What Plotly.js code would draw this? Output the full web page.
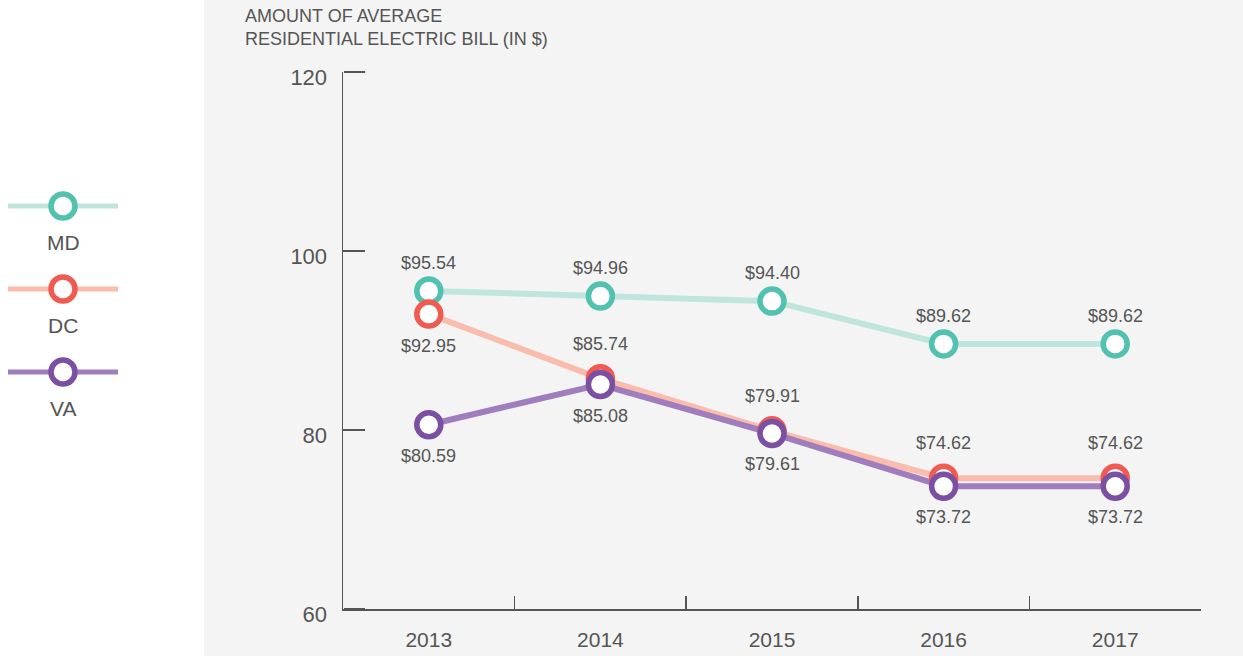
<!DOCTYPE html>
<html>
<head>
<meta charset="utf-8">
<script src="https://cdn.plot.ly/plotly-3.0.1.min.js"></script>
<style>html,body{margin:0;padding:0;background:#fff;}#chart{width:1243px;height:656px;}</style>
</head>
<body>
<div id="chart"></div>
<script>
const years = ["2013", "2014", "2015", "2016", "2017"];
const seriesNames = ["MD", "DC", "VA"];
const mdValues = [95.54, 94.96, 94.40, 89.62, 89.62];
const dcValues = [92.95, 85.74, 79.91, 74.62, 74.62];
const vaValues = [80.59, 85.08, 79.61, 73.72, 73.72];
const mdLabelSide = ["above", "above", "above", "above", "above"];
const dcLabelSide = ["below", "above", "above", "above", "above"];
const vaLabelSide = ["below", "below", "below", "below", "below"];
const yTicks = [60, 80, 100, 120];
const titleText = "AMOUNT OF AVERAGE<br>RESIDENTIAL ELECTRIC BILL (IN $)";

const ringColors = ["#52c2b0", "#f05a50", "#7b4fa2"];
const lineColors = ["#bfe5dd", "#f9bcad", "#a07dbd"];
const values = [mdValues, dcValues, vaValues];
const labelSide = [mdLabelSide, dcLabelSide, vaLabelSide];
const upShift = [28, 35, 28];
const downShift = [31, 32, 31];

const W = 1243, H = 656;
const fontFam = "Liberation Sans, Arial, sans-serif";
const txtColor = "#555555";

const traces = [];
values.forEach((v, i) => {
  traces.push({
    x: years, y: v, type: "scatter", mode: "lines",
    line: {color: lineColors[i], width: 6},
    hoverinfo: "skip", showlegend: false
  });
});
values.forEach((v, i) => {
  traces.push({
    x: years, y: v, type: "scatter", mode: "markers",
    marker: {size: 24, color: "#ffffff", line: {color: ringColors[i], width: 5.5}},
    hoverinfo: "skip", showlegend: false, cliponaxis: false
  });
});
seriesNames.forEach((name, i) => {
  traces.push({
    x: [0, 1], y: [i, i], xaxis: "x2", yaxis: "y2", type: "scatter", mode: "lines",
    line: {color: lineColors[i], width: 5}, hoverinfo: "skip", showlegend: false
  });
});
seriesNames.forEach((name, i) => {
  traces.push({
    x: [0.5], y: [i], xaxis: "x2", yaxis: "y2", type: "scatter", mode: "markers",
    marker: {size: 24, color: "#ffffff", line: {color: ringColors[i], width: 5.5}},
    hoverinfo: "skip", showlegend: false, cliponaxis: false
  });
});
traces.push({x: [], y: [], yaxis: "y3", type: "scatter", mode: "lines", hoverinfo: "skip", showlegend: false});

const annotations = [];
values.forEach((v, i) => {
  v.forEach((n, j) => {
    const up = labelSide[i][j] === "above";
    annotations.push({
      x: j, y: n, xref: "x", yref: "y", text: "$" + n.toFixed(2), showarrow: false,
      xanchor: "center", yanchor: "middle", yshift: up ? upShift[i] : -downShift[i],
      font: {family: fontFam, size: 18, color: txtColor}
    });
  });
});
seriesNames.forEach((name, i) => {
  annotations.push({
    x: 0.5, y: i + 0.44, xref: "x2", yref: "y2", text: name, showarrow: false,
    font: {family: fontFam, size: 21, color: txtColor}, xanchor: "center", yanchor: "middle"
  });
});
annotations.push({
  x: 243 / W, y: 1 - 4 / H, xref: "paper", yref: "paper", text: titleText, showarrow: false,
  xanchor: "left", yanchor: "top", align: "left",
  font: {family: fontFam, size: 18, color: txtColor}
});

const layout = {
  width: W, height: H,
  margin: {l: 0, r: 0, t: 0, b: 0},
  paper_bgcolor: "#f4f4f4",
  plot_bgcolor: "rgba(0,0,0,0)",
  showlegend: false,
  xaxis: {
    type: "category", domain: [343 / W, 1201 / W], range: [-0.5, 4.5],
    tickson: "boundaries", ticks: "inside", ticklen: 13, tickwidth: 1.5, tickcolor: "#555",
    showline: true, linecolor: "#555", linewidth: 1.5, showgrid: false, zeroline: false,
    tickfont: {family: fontFam, size: 21, color: txtColor}, ticklabelstandoff: 11,
    fixedrange: true
  },
  yaxis: {
    domain: [1 - 609 / H, 1 - 72 / H], range: [60, 120], tickvals: yTicks,
    ticks: "inside", ticklen: 21, tickwidth: 1.5, tickcolor: "#555",
    showline: true, linecolor: "#555", linewidth: 1.5, showgrid: false, zeroline: false,
    tickfont: {family: fontFam, size: 22, color: txtColor}, ticklabelstandoff: 10,
    ticklabelshift: 5,
    fixedrange: true
  },
  yaxis3: {
    overlaying: "y", anchor: "free", position: 343 / W, side: "right",
    range: [60, 120], tickvals: yTicks, ticks: "outside", ticklen: 21, tickwidth: 1.5,
    tickcolor: "#555", showticklabels: false, showline: false, showgrid: false, zeroline: false,
    fixedrange: true
  },
  xaxis2: {domain: [8 / W, 118 / W], range: [0, 1], visible: false, anchor: "y2", fixedrange: true},
  yaxis2: {domain: [1 - 413.5 / H, 1 - 164.5 / H], range: [2.5, -0.5], visible: false, anchor: "x2", fixedrange: true},
  shapes: [{
    type: "rect", xref: "paper", yref: "paper", x0: -0.01, x1: 204 / W, y0: -0.01, y1: 1.01,
    fillcolor: "#ffffff", line: {width: 0}, layer: "below"
  }],
  annotations: annotations
};

Plotly.newPlot("chart", traces, layout, {displayModeBar: false, staticPlot: true});
</script>
</body>
</html>
